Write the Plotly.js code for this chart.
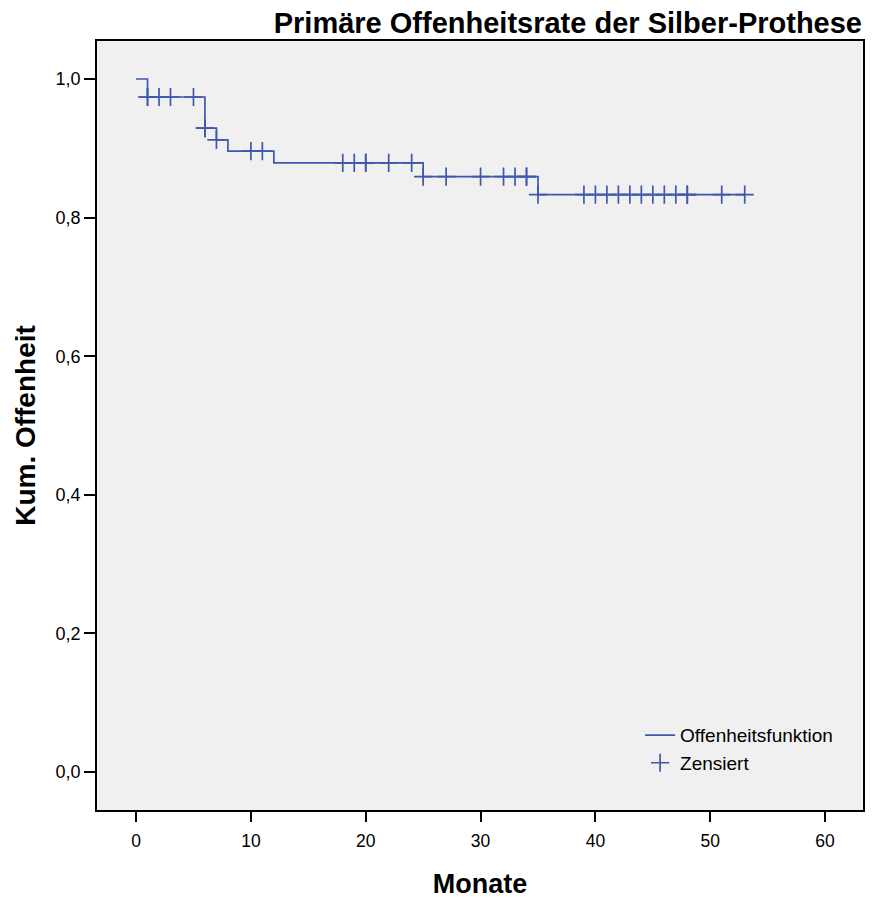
<!DOCTYPE html>
<html><head><meta charset="utf-8">
<script src="https://cdn.plot.ly/plotly-3.0.1.min.js"></script>
<style>body{margin:0;background:#fff}#c{width:875px;height:899px}</style>
</head><body><div id="c"></div>
<script>
// Kaplan-Meier step function
const stepTimes = [0, 1, 6, 7, 8, 12, 25, 35, 53];
const stepSurv  = [1.0, 0.974, 0.929, 0.912, 0.896, 0.879, 0.859, 0.833, 0.833];
// censored observations (months)
const censorTimes = [1, 1, 2, 3, 5, 6, 6, 7, 10, 11, 18, 19, 20, 20, 22, 24, 25, 27, 30, 32, 33, 34, 34, 35,
                     39, 40, 41, 42, 43, 44, 45, 46, 47, 48, 48, 51, 53];
const xTicks = [0, 10, 20, 30, 40, 50, 60];
const yTicks = [0, 0.2, 0.4, 0.6, 0.8, 1.0];

function survAt(t) {
  let s = stepSurv[0];
  for (let i = 0; i < stepTimes.length; i++) if (stepTimes[i] <= t) s = stepSurv[i];
  return s;
}
const censorSurv = censorTimes.map(survAt);
const col = '#3f58ad';
const font = 'Liberation Sans, Arial, sans-serif';

const traces = [
  {x: stepTimes, y: stepSurv, type: 'scatter', mode: 'lines', line: {shape: 'hv', color: col, width: 1.7},
   name: 'Offenheitsfunktion'},
  {x: censorTimes, y: censorSurv, type: 'scatter', mode: 'markers',
   marker: {symbol: 'cross-thin-open', size: 13, line: {color: col, width: 1.7}, color: col},
   name: 'Zensiert'}
];
const layout = {
  width: 875, height: 899,
  margin: {l: 97, r: 12, t: 41, b: 89},
  paper_bgcolor: '#ffffff', plot_bgcolor: '#f0f0f0',
  separators: ',.',
  font: {family: font, color: '#000', size: 17},
  title: {text: '<b>Primäre Offenheitsrate der Silber-Prothese</b>', font: {family: font, size: 29, color: '#000'},
          xref: 'container', x: 862/875, xanchor: 'right', yref: 'container', y: 1 - 23/899, yanchor: 'middle'},
  xaxis: {range: [-3.4, 63.3], tickvals: xTicks, ticktext: xTicks.map(String), ticks: 'outside', ticklen: 10,
          tickwidth: 1.5, tickcolor: '#000', showgrid: false, zeroline: false, showline: true, mirror: true,
          linecolor: '#000', linewidth: 1.5, tickfont: {size: 17.5}, ticklabelstandoff: 4,
          title: {text: '<b>Monate</b>', font: {size: 27}, standoff: 24}},
  yaxis: {range: [-0.0548, 1.0548], tickvals: yTicks, tickformat: '.1f', ticks: 'outside', ticklen: 11,
          tickwidth: 1.5, tickcolor: '#000', showgrid: false, zeroline: false, showline: true, mirror: true,
          linecolor: '#000', linewidth: 1.5, tickfont: {size: 18}, ticklabelstandoff: 0,
          title: {text: '<b>Kum. Offenheit</b>', font: {size: 28}, standoff: 12}},
  legend: {x: 0.709, y: 0.122, xanchor: 'left', yanchor: 'top', bgcolor: 'rgba(0,0,0,0)',
           font: {size: 19}, tracegroupgap: 0, itemwidth: 30},
  showlegend: true
};
Plotly.newPlot('c', traces, layout, {displayModeBar: false});
</script></body></html>
